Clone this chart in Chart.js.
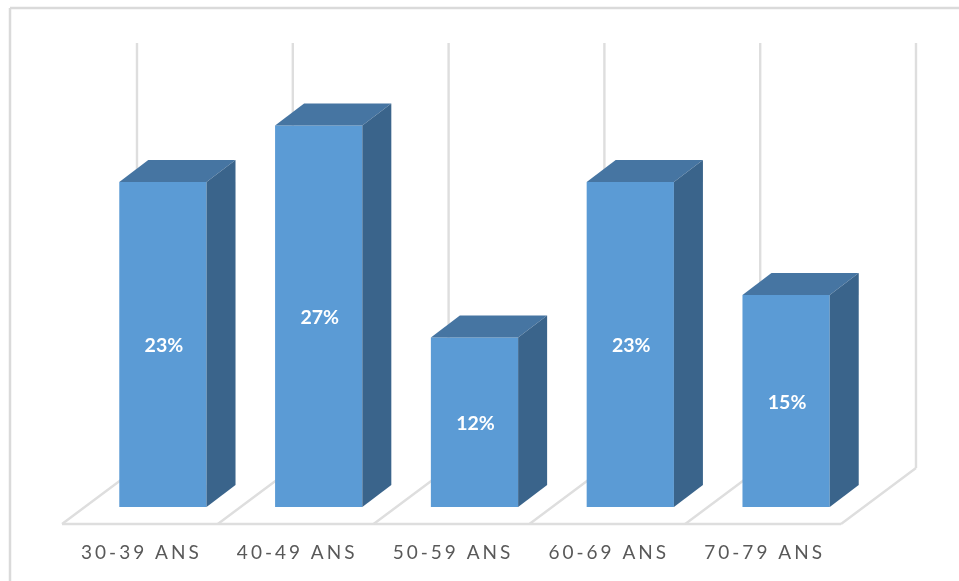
<!DOCTYPE html>
<html lang="fr">
<head>
<meta charset="utf-8">
<title>Répartition par âge</title>
<script src="https://cdn.jsdelivr.net/npm/chart.js@4/dist/chart.umd.min.js"></script>
<style>
    html, body { margin: 0; padding: 0; background: #ffffff; }
    canvas { display: block; }
</style>
</head>
<body>
<canvas id="chart-1" width="959" height="581"></canvas>
<script>
const categories = ['30-39 ANS', '40-49 ANS', '50-59 ANS', '60-69 ANS', '70-79 ANS'];
const values = [23, 27, 12, 23, 15];
const axisMax = 30;

const FRONT = '#5b9bd5';
const TOP = '#4675a2';
const SIDE = '#3a648b';
const GRID = '#dedede';

// depth of a bar, and gap between the bar and the floor edges
const DEPTH_X = 29;
const DEPTH_Y = 22;
const MARGIN_X = 23;
const MARGIN_Y = 17;

function line(ctx, x1, y1, x2, y2) {
    ctx.beginPath();
    ctx.moveTo(x1, y1);
    ctx.lineTo(x2, y2);
    ctx.stroke();
}

function face(ctx, color, points) {
    ctx.fillStyle = color;
    ctx.beginPath();
    points.forEach(([x, y], i) => (i ? ctx.lineTo(x, y) : ctx.moveTo(x, y)));
    ctx.closePath();
    ctx.fill();
}

// outer frame, floor and back wall lines
const wallPlugin = {
    id: 'wall',
    beforeDraw(chart) {
        const ctx = chart.ctx;
        const xScale = chart.scales.x;
        const yScale = chart.scales.y;
        const step = xScale.width / categories.length;
        const floorY = yScale.bottom + MARGIN_Y;
        const backDx = 2 * MARGIN_X + DEPTH_X;
        const backDy = 2 * MARGIN_Y + DEPTH_Y;
        const frontLeft = xScale.left - MARGIN_X;
        const wallTop = yScale.getPixelForValue(axisMax) - (MARGIN_Y + DEPTH_Y + 1);

        ctx.save();
        ctx.strokeStyle = '#dadada';
        ctx.lineWidth = 2.5;
        line(ctx, 10, chart.height, 10, 8);
        line(ctx, 10, 8, chart.width, 8);

        ctx.strokeStyle = GRID;
        ctx.lineWidth = 2.4;
        line(ctx, frontLeft, floorY, frontLeft + xScale.width, floorY);
        for (let i = 0; i <= categories.length; i++) {
            const x = frontLeft + i * step;
            line(ctx, x, floorY, x + backDx, floorY - backDy);
            line(ctx, x + backDx, floorY - backDy, x + backDx, wallTop);
        }
        ctx.restore();

        // spaced axis text, reset again before the value labels
        ctx.letterSpacing = '3px';
    },
    beforeDatasetsDraw(chart) {
        chart.ctx.letterSpacing = '0px';
    },
    afterDatasetsDraw(chart) {
        const ctx = chart.ctx;
        ctx.save();
        chart.getDatasetMeta(0).data.forEach((bar, i) => {
            const left = bar.x - bar.width / 2;
            const right = bar.x + bar.width / 2;
            face(ctx, TOP, [
                [left, bar.y],
                [left + DEPTH_X, bar.y - DEPTH_Y],
                [right + DEPTH_X, bar.y - DEPTH_Y],
                [right, bar.y]
            ]);
            face(ctx, SIDE, [
                [right, bar.y],
                [right + DEPTH_X, bar.y - DEPTH_Y],
                [right + DEPTH_X, bar.base - DEPTH_Y],
                [right, bar.base]
            ]);

            ctx.fillStyle = '#ffffff';
            ctx.font = 'bold 19.5px Lato, sans-serif';
            ctx.textAlign = 'center';
            ctx.textBaseline = 'middle';
            ctx.fillText(values[i] + '%', bar.x + 1, (bar.y + bar.base) / 2 + 1.5);
        });
        ctx.restore();
    }
};

new Chart(document.getElementById('chart-1').getContext('2d'), {
    type: 'bar',
    data: {
        labels: categories,
        datasets: [{
            data: values,
            backgroundColor: FRONT,
            borderWidth: 0,
            categoryPercentage: 1,
            barPercentage: 0.56
        }]
    },
    options: {
        responsive: false,
        animation: false,
        layout: { padding: { left: 85, right: 95, top: 83, bottom: 0 } },
        plugins: {
            legend: { display: false },
            tooltip: { enabled: false }
        },
        scales: {
            x: {
                grid: { display: false },
                border: { display: false },
                afterFit(scale) { scale.height = 74; },
                ticks: {
                    color: '#595959',
                    font: { family: 'Lato, sans-serif', size: 19 },
                    padding: 26,
                    labelOffset: 1.5 - MARGIN_X,
                    autoSkip: false,
                    maxRotation: 0
                }
            },
            y: {
                display: false,
                min: 0,
                max: axisMax
            }
        }
    },
    plugins: [wallPlugin]
});
</script>
</body>
</html>
